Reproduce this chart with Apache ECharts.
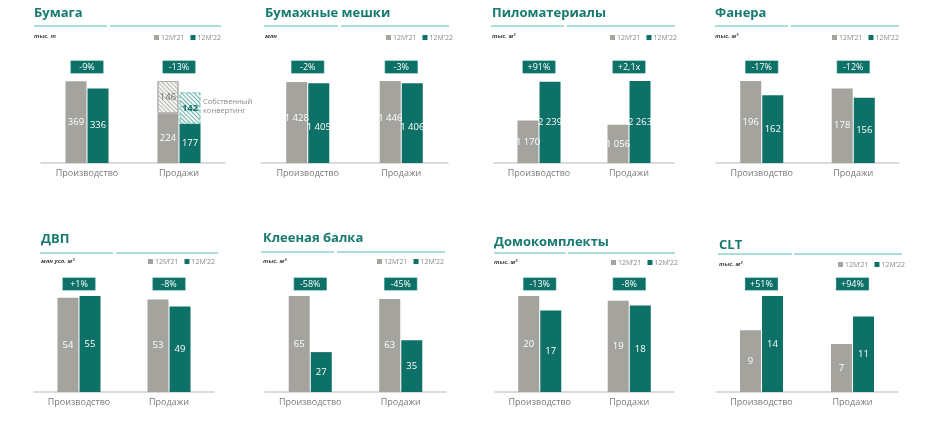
<!DOCTYPE html>
<html><head><meta charset="utf-8">
<script src="https://cdn.jsdelivr.net/npm/echarts@6/dist/echarts.min.js"></script>
<style>html,body{margin:0;padding:0;background:#fff}#c{width:942px;height:425px}</style>
</head><body><div id="c"></div><script>
// ---- data ----
const categories = ['Производство', 'Продажи'];
const legendNames = ['12M’21', '12M’22'];
const panelTitles = ['Бумага', 'Бумажные мешки', 'Пиломатериалы', 'Фанера', 'ДВП', 'Клееная балка', 'Домокомплекты', 'CLT'];
const panelUnits = ['тыс. т', 'млн', 'тыс. м³', 'тыс. м³', 'млн усл. м²', 'тыс. м³', 'тыс. м³', 'тыс. м³'];

const paper21 = [369, 224];
const paper22 = [336, 177];
const paperOwn21 = ['-', 146];
const paperOwn22 = ['-', 142];
const paperChange = ['-9%', '-13%'];
const ownNote = 'Собственный\nконвертинг';

const bags21 = [1428, 1446];
const bags22 = [1405, 1406];
const bagsChange = ['-2%', '-3%'];

const lumber21 = [1170, 1056];
const lumber22 = [2239, 2263];
const lumberChange = ['+91%', '+2,1x'];

const plywood21 = [196, 178];
const plywood22 = [162, 156];
const plywoodChange = ['-17%', '-12%'];

const fiber21 = [54, 53];
const fiber22 = [55, 49];
const fiberChange = ['+1%', '-8%'];

const glulam21 = [65, 63];
const glulam22 = [27, 35];
const glulamChange = ['-58%', '-45%'];

const houses21 = [20, 19];
const houses22 = [17, 18];
const housesChange = ['-13%', '-8%'];

const clt21 = [9, 7];
const clt22 = [14, 11];
const cltChange = ['+51%', '+94%'];

const panelData = [
  { v21: paper21, v22: paper22, own21: paperOwn21, own22: paperOwn22, change: paperChange },
  { v21: bags21, v22: bags22, change: bagsChange },
  { v21: lumber21, v22: lumber22, change: lumberChange },
  { v21: plywood21, v22: plywood22, change: plywoodChange },
  { v21: fiber21, v22: fiber22, change: fiberChange },
  { v21: glulam21, v22: glulam22, change: glulamChange },
  { v21: houses21, v22: houses22, change: housesChange },
  { v21: clt21, v22: clt22, change: cltChange }
];

// ---- layout / style ----
const FONT = 'Open Sans';
const GRAY = '#a5a39e';
const TEAL = '#0e7167';
const TITLE = '#167a70';
const LINE = '#8fd2cc';
const VAL_SIZE = 9.5;
const layout = [
  { left: 41, width: 184, top: 81, bottom: 262, tx: 34, ty: 7, ly: 26, l1: [34, 107], l2: [110, 221], uy: 33, lgx: 154, lgy: 34, bm: 8, lab: [0, 0] },
  { left: 261, width: 187, top: 81, bottom: 262, tx: 265, ty: 7, ly: 26, l1: [264, 338], l2: [341, 449], uy: 33, lgx: 386, lgy: 34, bm: 8, lab: [-4, 4] },
  { left: 494, width: 180, top: 81, bottom: 262, tx: 492, ty: 7, ly: 26, l1: [491, 564], l2: [567, 675], uy: 33, lgx: 610, lgy: 34, bm: 8, lab: [0, 0] },
  { left: 716, width: 183, top: 81, bottom: 262, tx: 715, ty: 7, ly: 26, l1: [715, 788], l2: [791, 899], uy: 33, lgx: 832, lgy: 34, bm: 8, lab: [0, 0] },
  { left: 34, width: 180, top: 296, bottom: 33, tx: 41, ty: 233, ly: 253, l1: [40, 113], l2: [116, 218], uy: 258, lgx: 148, lgy: 258, bm: 6, lab: [0, 0] },
  { left: 265, width: 181, top: 296, bottom: 33, tx: 263, ty: 232, ly: 252, l1: [261, 334], l2: [337, 445], uy: 258, lgx: 377, lgy: 258, bm: 6, lab: [0, 0] },
  { left: 495, width: 179, top: 296, bottom: 33, tx: 494, ty: 236, ly: 253, l1: [494, 566], l2: [568, 675], uy: 259, lgx: 611, lgy: 259, bm: 6, lab: [0, 0] },
  { left: 716, width: 182, top: 296, bottom: 33, tx: 719, ty: 239, ly: 254, l1: [718, 792], l2: [794, 902], uy: 261, lgx: 838, lgy: 261, bm: 6, lab: [0, 0] }
];

function fmt(v) {
  return String(v).replace(/\B(?=(\d{3})+(?!\d))/g, ' ');
}

const grid = [], xAxis = [], yAxis = [], series = [], title = [], legend = [], graphic = [];

panelData.forEach((p, i) => {
  const L = layout[i];
  grid.push({ left: L.left, width: L.width, top: L.top, bottom: L.bottom });
  xAxis.push({
    type: 'category', gridIndex: i, data: categories, position: 'bottom',
    axisLine: { lineStyle: { color: '#cfcfcf', width: 1.5 } },
    axisTick: { show: false },
    axisLabel: { color: '#7a7a7a', fontSize: 9, margin: 6, fontFamily: FONT }
  });
  xAxis.push({
    type: 'category', gridIndex: i, data: categories, position: 'top',
    axisLine: { show: false }, axisTick: { show: false },
    axisLabel: {
      margin: L.bm,
      formatter: (v, idx) => '{b|' + p.change[idx] + '}',
      rich: {
        b: {
          color: '#fff', backgroundColor: TEAL, fontSize: 9, fontFamily: FONT,
          width: 24, align: 'center', padding: [2, 4, 1, 4],
          borderColor: '#4fa79d', borderWidth: 0.6
        }
      }
    }
  });
  yAxis.push({
    type: 'value', gridIndex: i, min: 0, max: (e) => e.max,
    show: false, splitLine: { show: false }
  });
  const common = { type: 'bar', xAxisIndex: 2 * i, yAxisIndex: i, barWidth: 21, barGap: '5%' };
  series.push(Object.assign({}, common, {
    name: legendNames[0], stack: 'a' + i, data: p.v21,
    itemStyle: { color: GRAY },
    label: { show: true, position: 'inside', color: '#fff', fontSize: VAL_SIZE, fontFamily: FONT, offset: [0, L.lab[0]], formatter: (d) => fmt(d.value) }
  }));
  series.push(Object.assign({}, common, {
    name: legendNames[1], stack: 'b' + i, data: p.v22,
    itemStyle: { color: TEAL },
    label: { show: true, position: 'inside', color: '#fff', fontSize: VAL_SIZE, fontFamily: FONT, offset: [0, L.lab[1]], formatter: (d) => fmt(d.value) }
  }));
  if (p.own21) {
    series.push(Object.assign({}, common, {
      name: 'own21', stack: 'a' + i, data: p.own21,
      itemStyle: {
        color: '#f7f7f6', borderColor: '#b0aeaa', borderWidth: 1,
        decal: { symbol: 'rect', symbolSize: 1, dashArrayX: [1, 0], dashArrayY: [1, 2], rotation: Math.PI / 4, color: '#b8b6b2' }
      },
      label: { show: true, position: 'inside', color: '#666', fontSize: VAL_SIZE, fontFamily: FONT, formatter: (d) => fmt(d.value) }
    }));
    series.push(Object.assign({}, common, {
      name: 'own22', stack: 'b' + i, data: p.own22,
      itemStyle: {
        color: '#f4faf9', borderColor: '#8fd2cc', borderWidth: 1, borderType: 'dashed',
        decal: { symbol: 'rect', symbolSize: 1, dashArrayX: [1, 0], dashArrayY: [1, 2], rotation: Math.PI / 4, color: '#6fb3ab' }
      },
      label: { show: true, position: 'inside', color: TEAL, fontWeight: 'bold', fontSize: VAL_SIZE, fontFamily: FONT, formatter: (d) => fmt(d.value) }
    }));
    graphic.push({
      type: 'text', left: 203, top: 97,
      style: { text: ownNote, fill: '#8a8a8a', fontSize: 7.5, lineHeight: 9.5, fontFamily: FONT }
    });
  }
  title.push({
    text: panelTitles[i], left: L.tx, top: L.ty, padding: 0,
    textStyle: { fontSize: 13, fontWeight: 'bold', color: TITLE, fontFamily: FONT }
  });
  title.push({
    text: panelUnits[i], left: L.tx, top: L.uy, padding: 0,
    textStyle: { fontSize: 6, fontWeight: 'bold', fontStyle: 'italic', color: '#444', fontFamily: FONT }
  });
  legend.push({
    data: legendNames, left: L.lgx, top: L.lgy, padding: 0,
    icon: 'rect', itemWidth: 5, itemHeight: 5, itemGap: 6, selectedMode: false,
    textStyle: { fontSize: 7, color: '#8a8a8a', fontFamily: FONT, padding: [0, 0, 0, -3] }
  });
  [L.l1, L.l2].forEach((seg) => {
    graphic.push({
      type: 'line', shape: { x1: seg[0], y1: L.ly, x2: seg[1], y2: L.ly },
      style: { stroke: LINE, lineWidth: 1.5 }
    });
  });
});

const chart = echarts.init(document.getElementById('c'));
chart.setOption({
  animation: false,
  backgroundColor: '#fff',
  textStyle: { fontFamily: FONT },
  title, legend, grid, xAxis, yAxis, series, graphic
});
</script></body></html>
